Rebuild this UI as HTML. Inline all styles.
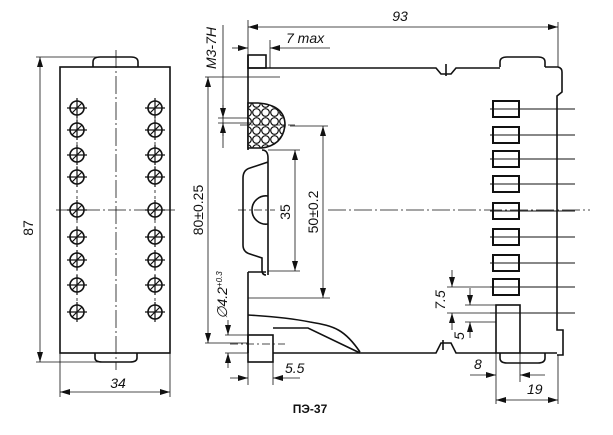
<!DOCTYPE html>
<html><head><meta charset="utf-8"><style>
html,body{margin:0;padding:0;background:#fff;}
svg{display:block}
text{font-family:"Liberation Sans",sans-serif;font-size:14px;fill:#111;font-style:italic}
</style></head><body>
<svg width="613" height="435" viewBox="0 0 613 435" xmlns="http://www.w3.org/2000/svg">
<defs>
<marker id="a" viewBox="0 0 10 6" refX="10" refY="3" markerWidth="10" markerHeight="6" orient="auto-start-reverse" markerUnits="userSpaceOnUse"><path d="M0,0 L10,3 L0,6 Z" fill="#111"/></marker>
<pattern id="h" width="9" height="9" patternUnits="userSpaceOnUse"><rect width="9" height="9" fill="#fff"/><circle cx="4.5" cy="4.5" r="3.8" fill="none" stroke="#111" stroke-width="1.2"/></pattern>
<g id="c"><circle r="7" fill="none" stroke="#111" stroke-width="1.6"/><path d="M-10,0H10M0,-10V10M-5,5L5,-5" stroke="#111" stroke-width="1.2"/></g>
<g id="t"><rect x="0" y="-8" width="26" height="16" fill="#fff" stroke="#111" stroke-width="2"/><line x1="-3" y1="0" x2="82" y2="0" stroke="#111" stroke-width="1"/></g>
</defs>
<g stroke="#111" fill="none" stroke-width="1.6">
<rect x="60" y="67" width="110" height="286"/>
<path d="M93,67 V62 Q93,57 100,57 H131 Q138,57 138,62 V67"/>
<path d="M95,353 V358 Q95,362 102,362 H130 Q137,362 137,358 V353"/>
</g>
<g stroke="#111" stroke-width="0.8" fill="none">
<path d="M116,50 V370" stroke-dasharray="18,3,2,3"/>
<path d="M56,210 H175" stroke-dasharray="18,3,2,3"/>
<path d="M77,100 V320 M155,100 V320" stroke-dasharray="3,3"/>
<path d="M36,57 H100 M36,362 H100"/>
<line x1="40" y1="57" x2="40" y2="362" marker-start="url(#a)" marker-end="url(#a)"/>
<path d="M60,353 V397 M170,353 V397"/>
<line x1="60" y1="392" x2="170" y2="392" marker-start="url(#a)" marker-end="url(#a)"/>
</g>
<g>
<use href="#c" x="77" y="108"/><use href="#c" x="77" y="130"/><use href="#c" x="77" y="155"/><use href="#c" x="77" y="177"/><use href="#c" x="77" y="210"/><use href="#c" x="77" y="237"/><use href="#c" x="77" y="260"/><use href="#c" x="77" y="285"/><use href="#c" x="77" y="312"/>
<use href="#c" x="155" y="108"/><use href="#c" x="155" y="130"/><use href="#c" x="155" y="155"/><use href="#c" x="155" y="177"/><use href="#c" x="155" y="210"/><use href="#c" x="155" y="237"/><use href="#c" x="155" y="260"/><use href="#c" x="155" y="285"/><use href="#c" x="155" y="312"/>
</g>
<text x="33" y="228" text-anchor="middle" transform="rotate(-90 33 228)" style="font-style:normal">87</text>
<text x="118" y="388" text-anchor="middle">34</text>

<g stroke="#111" fill="none" stroke-width="1.6">
<path d="M248,68 H436 L441,74 H451 L456,68 H500"/>
<path d="M446,64 V76"/>
<path d="M545,67 H558 Q562,68 562,72 V92 L557,96 V330 H563 V355 H557"/>
<path d="M500,67 V62 Q500,57 507,57 H538 Q545,57 545,62 V67"/>
<rect x="248" y="55" width="18" height="13"/>
<path d="M248,55 V150"/>
<path d="M248,103 H258 Q285,105 285,125 Q283,145 262,148 H248 Z" fill="url(#h)"/>
<path d="M262,150 Q268,150 268,158 V162 L250,168 Q243,170 243,178 V245 Q243,252 250,254 L262,258 V270 Q262,275 266,275 M268,160 V275"/>
<path d="M252,210 A14,14 0 0 1 268,196 M252,210 A14,14 0 0 0 268,224"/>
<path d="M248,272 H266 M248,272 V353"/>
<rect x="248" y="335" width="25" height="27"/>
<path d="M273,353 H436 L441,343 H451 L456,353 H496 M520,353 H557"/>
<path d="M273,328 H308 L360,353"/>
<path d="M248,315 C265,316 290,318 310,322 C335,326 345,330 360,352"/>
<path d="M443,340 V350"/>
<rect x="496" y="305" width="24" height="48"/>
<path d="M500,353 V358 Q500,363 507,363 H538 Q545,363 545,358 V353"/>
</g>
<g>
<use href="#t" x="493" y="109"/><use href="#t" x="493" y="135"/><use href="#t" x="493" y="159"/><use href="#t" x="493" y="184"/><use href="#t" x="493" y="211"/><use href="#t" x="493" y="237"/><use href="#t" x="493" y="263"/><use href="#t" x="493" y="287"/>
<line x1="490" y1="313" x2="575" y2="313" stroke="#111"/>
</g>
<g stroke="#111" stroke-width="0.8" fill="none">
<path d="M328,210 H590" stroke-dasharray="18,3,2,3"/>
<path d="M240,125 H295 M238,210 H275 M230,344 H285" stroke-dasharray="8,3,2,3"/>
<path d="M248,20 V55 M558,22 V67"/>
<line x1="248" y1="27" x2="558" y2="27" marker-start="url(#a)" marker-end="url(#a)"/>
<path d="M270,40 V68"/>
<line x1="232" y1="48" x2="248" y2="48" marker-end="url(#a)"/>
<line x1="330" y1="48" x2="270" y2="48" marker-end="url(#a)"/>
<path d="M223,25 V148 M218,118 H250 M218,123 H250"/>
<line x1="223" y1="105" x2="223" y2="118" marker-end="url(#a)"/>
<line x1="223" y1="136" x2="223" y2="123" marker-end="url(#a)"/>
<path d="M205,77 H280 M205,343 H248"/>
<line x1="208" y1="77" x2="208" y2="343" marker-start="url(#a)" marker-end="url(#a)"/>
<path d="M290,126 H328 M248,298 H330"/>
<line x1="323" y1="126" x2="323" y2="298" marker-start="url(#a)" marker-end="url(#a)"/>
<path d="M268,150 H300 M268,271 H300"/>
<line x1="295" y1="150" x2="295" y2="271" marker-start="url(#a)" marker-end="url(#a)"/>
<path d="M225,335 H248 M225,353 H248"/>
<line x1="228" y1="320" x2="228" y2="335" marker-end="url(#a)"/>
<line x1="228" y1="368" x2="228" y2="353" marker-end="url(#a)"/>
<path d="M248,362 V385 M273,362 V385"/>
<line x1="230" y1="378" x2="248" y2="378" marker-end="url(#a)"/>
<line x1="300" y1="378" x2="273" y2="378" marker-end="url(#a)"/>
<path d="M447,287 H493 M447,313 H493 M465,305 H496 M465,322 H496"/>
<line x1="452" y1="270" x2="452" y2="287" marker-end="url(#a)"/>
<line x1="452" y1="330" x2="452" y2="313" marker-end="url(#a)"/>
<line x1="470" y1="288" x2="470" y2="305" marker-end="url(#a)"/>
<line x1="470" y1="338" x2="470" y2="322" marker-end="url(#a)"/>
<path d="M496,353 V404 M558,355 V404 M520,338 V382"/>
<line x1="470" y1="375" x2="496" y2="375" marker-end="url(#a)"/>
<line x1="545" y1="375" x2="520" y2="375" marker-end="url(#a)"/>
<line x1="496" y1="400" x2="558" y2="400" marker-start="url(#a)" marker-end="url(#a)"/>
</g>
<text x="400" y="21" text-anchor="middle">93</text>
<text x="286" y="43">7 max</text>
<text x="216" y="48" text-anchor="middle" transform="rotate(-90 216 48)">M3-7H</text>
<text x="203" y="210" text-anchor="middle" transform="rotate(-90 203 210)" style="font-style:normal">80±0.25</text>
<text x="318" y="212" text-anchor="middle" transform="rotate(-90 318 212)" style="font-style:normal">50±0.2</text>
<text x="290" y="212" text-anchor="middle" transform="rotate(-90 290 212)" style="font-style:normal">35</text>
<text x="227" y="295" text-anchor="middle" transform="rotate(-90 227 295)">∅4.2<tspan dy="-5" font-size="8">+0.3</tspan></text>
<text x="285" y="373">5.5</text>
<text x="445" y="300" text-anchor="middle" transform="rotate(-90 445 300)">7.5</text>
<text x="464" y="336" text-anchor="middle" transform="rotate(-90 464 336)">5</text>
<text x="474" y="369">8</text>
<text x="527" y="394">19</text>
<text x="310" y="413" text-anchor="middle" style="font-style:normal;font-weight:bold;font-size:12px">ПЭ-37</text>
</svg>
</body></html>
